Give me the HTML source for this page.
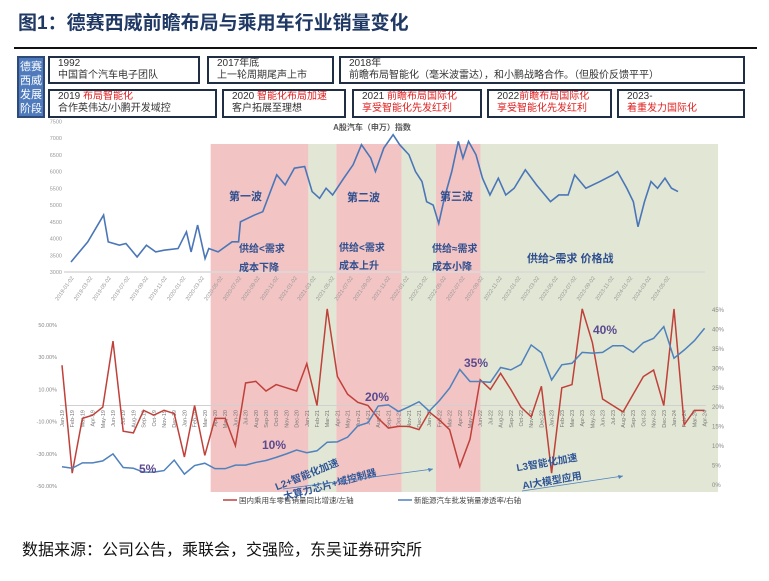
<!DOCTYPE html>
<html><head><meta charset="utf-8"><style>
body{margin:0;width:769px;height:581px;background:#fff;font-family:"Liberation Sans","Noto Sans CJK SC",sans-serif;overflow:hidden;position:relative}
.t{position:absolute}
.box{position:absolute;border:2px solid #1f2d45;box-sizing:border-box;font-size:10px;line-height:12px;padding:0 0 0 8px;color:#333;background:#fff;white-space:nowrap;overflow:hidden}
.r{color:#e02020}
</style></head><body>
<div class="t" style="left:18px;top:8px;font-size:19px;font-weight:bold;color:#1f3864">图1：德赛西威前瞻布局与乘用车行业销量变化</div>
<div class="t" style="left:14px;top:47px;width:743px;height:2px;background:#111"></div>
<div class="t" style="left:17px;top:56px;width:28px;height:62px;background:#4f7bbd;border:2px solid #2e4a78;box-sizing:border-box;color:#fff;font-size:11px;line-height:14px;text-align:center;padding-top:2px">德赛西威发展阶段</div>
<div class="box" style="left:48px;top:56px;width:152px;height:28px">1992<br>中国首个汽车电子团队</div>
<div class="box" style="left:207px;top:56px;width:127px;height:28px">2017年底<br>上一轮周期尾声上市</div>
<div class="box" style="left:339px;top:56px;width:406px;height:28px">2018年<br>前瞻布局智能化（毫米波雷达），和小鹏战略合作。（但股价反馈平平）</div>
<div class="box" style="left:48px;top:89px;width:169px;height:29px">2019 <span class="r">布局智能化</span><br>合作英伟达/小鹏开发域控</div>
<div class="box" style="left:222px;top:89px;width:124px;height:29px">2020 <span class="r">智能化布局加速</span><br>客户拓展至理想</div>
<div class="box" style="left:352px;top:89px;width:130px;height:29px">2021 <span class="r">前瞻布局国际化<br>享受智能化先发红利</span></div>
<div class="box" style="left:487px;top:89px;width:125px;height:29px">2022<span class="r">前瞻布局国际化<br>享受智能化先发红利</span></div>
<div class="box" style="left:617px;top:89px;width:128px;height:29px">2023-<br><span class="r">着重发力国际化</span></div>

<svg id="ch" width="769" height="581" style="position:absolute;left:0;top:0;pointer-events:none" font-family="Liberation Sans, Noto Sans CJK SC, sans-serif"></svg>

<div class="t" style="left:22px;top:536px;font-size:16px;color:#111">数据来源：公司公告，乘联会，交强险，东吴证券研究所</div>

<script>
// ---- top chart data: A-share auto index (months since 2019-01) ----
const idxMonths=[0,1.8,3.5,4.0,5.2,5.9,7.1,8.1,9.1,10.0,11.5,12.4,12.9,13.6,14.4,14.8,15.8,17.3,18.0,18.2,19.7,20.6,22.1,23.0,24.0,25.1,25.9,26.7,27.4,28.1,29.3,30.3,31.2,32.2,32.7,33.6,34.6,35.3,36.3,37.0,37.7,38.2,38.9,39.5,40.1,40.9,41.6,42.1,42.7,43.5,44.2,45.0,45.9,46.7,47.6,48.8,50.0,51.5,52.4,53.4,54.1,55.3,56.8,58.2,58.7,59.7,60.4,60.9,61.6,62.3,63.0,63.8,64.5,65.2];
const idxValues=[3300,3900,4700,3900,3800,3850,3450,3800,3600,3650,3700,4200,3600,4400,3400,3700,3600,3900,3900,4500,4700,4800,5900,5600,6100,6150,5400,5200,5500,5300,5800,6200,6800,6400,6000,6700,7100,6800,6500,6000,5700,5100,5000,4450,5200,6000,6900,6400,6900,6500,5800,5300,5800,5300,5500,6050,5600,5100,5300,5300,5900,5500,5700,5900,6000,5500,5100,4350,5100,5700,5500,5800,5500,5400];
const idxTicks=[7500,7000,6500,6000,5500,5000,4500,4000,3500,3000];
const dateLabels=["2019-01-02","2019-03-02","2019-05-02","2019-07-02","2019-09-02","2019-11-02","2020-01-02","2020-03-02","2020-05-02","2020-07-02","2020-09-02","2020-11-02","2021-01-02","2021-03-02","2021-05-02","2021-07-02","2021-09-02","2021-11-02","2022-01-02","2022-03-02","2022-05-02","2022-07-02","2022-09-02","2022-11-02","2023-01-02","2023-03-02","2023-05-02","2023-07-02","2023-09-02","2023-11-02","2024-01-02","2024-03-02","2024-05-02"];
// ---- bottom chart data ----
const monthLabels=[];
const mn=["Jan","Feb","Mar","Apr","May","Jun","Jul","Aug","Sep","Oct","Nov","Dec"];
for(let y=19;y<=24;y++)for(let m=0;m<12;m++){if(y===24&&m>3)break;monthLabels.push(mn[m]+"-"+y);}
const retailYoY=[25,-42,-8,-6,-1,40,-16,-17,-3,-6,-3,-5,-32,0,-31,-8,-8,-25,14,15,9,13,11,9,26,0,60,18,7,2,0,-8,-14,-13,-13,-15,-4,-9,-15,-38,-21,16,10,20,10,-1,-7,12,-42,11,13,60,39,4,0,-4,7,18,22,0,60,-12,-3,-3];
const nevShare=[4.7,4.3,5.7,5.7,6.2,8,4.5,4.3,3.3,3.3,3.7,6.4,2.8,5,5.6,4.2,4.2,5.1,5.1,5.8,6.3,7.1,8,9,8.3,8.8,11,11.1,12.3,15.2,16,20.3,20.6,18.9,20.1,21.4,19,21.7,24.9,29.7,26.6,26.6,26.4,30.2,29.6,31,36,34,27,30.9,31.3,34.1,33.9,34.1,35.8,35.8,34.1,36.6,37.7,40.7,32.6,34.7,37.1,40.3];
const leftTicks=["50.00%","30.00%","10.00%","-10.00%","-30.00%","-50.00%"];
const leftTickVals=[50,30,10,-10,-30,-50];
const rightTickVals=[45,40,35,30,25,20,15,10,5,0];
// phase bands in months since 2019-01
const bandStart=[15.0,25.5,28.5,35.5,39.2,44.0];
const bandEnd=[25.5,28.5,35.5,39.2,44.0,69.5];
const bandKind=["p","g","p","g","p","g"];

const svg=document.getElementById('ch');const NS="http://www.w3.org/2000/svg";
function mk(tag,attrs,parent){const e=document.createElementNS(NS,tag);for(const k in attrs)e.setAttribute(k,attrs[k]);(parent||svg).appendChild(e);return e;}
const tx=t=>71+t*9.31;
const ty=v=>272-(v-3000)*(134/4000);
const bx=i=>62+i*10.2;
const bl=v=>405.5-v*1.61;
const br=v=>485-v*3.89;

bandStart.forEach((s,i)=>{const r=mk('rect',{x:tx(s),y:144,width:tx(bandEnd[i])-tx(s),height:348,fill:bandKind[i]==="p"?"#f2c4c4":"#e1e7d4"});

});

const g1=mk('g',{});
mk('line',{x1:64,y1:272,x2:705,y2:272,stroke:"#d9d9d9","stroke-width":1.5},g1);
idxTicks.forEach(v=>{const t=mk('text',{x:62,y:ty(v)+2,"font-size":5.5,fill:"#999","text-anchor":"end"},g1);t.textContent=v;

});
dateLabels.forEach((d,i)=>{const x=tx(i*2)+3;const t=mk('text',{x:x,y:278,"font-size":5.5,fill:"#999","text-anchor":"end",transform:`rotate(-55 ${x} 278)`},g1);t.textContent=d;

});
const tt=mk('text',{x:372,y:130,"font-size":8,fill:"#555","text-anchor":"middle","font-weight":"bold"},g1);tt.textContent="A股汽车（申万）指数";

const ip=mk('polyline',{points:idxMonths.map((t,i)=>tx(t)+","+ty(idxValues[i])).join(" "),fill:"none",stroke:"#4a76b8","stroke-width":1.6},g1);


function label(txt,x,y,size,fill,name,extra){const t=mk('text',Object.assign({x:x,y:y,"font-size":size,fill:fill,"font-weight":"bold"},extra||{}));t.textContent=txt;return t;}
label("第一波",229,200,11,"#2f4f8f","wave-1-label");
label("第二波",347,201,11,"#2f4f8f","wave-2-label");
label("第三波",440,200,11,"#2f4f8f","wave-3-label");
label("供给<需求",239,252,10,"#2f4f8f","phase-1-supply");
label("成本下降",239,271,10,"#2f4f8f","phase-1-cost");
label("供给<需求",339,251,10,"#2f4f8f","phase-2-supply");
label("成本上升",339,269,10,"#2f4f8f","phase-2-cost");
label("供给≈需求",432,252,10,"#2f4f8f","phase-3-supply");
label("成本小降",432,270,10,"#2f4f8f","phase-3-cost");
label("供给>需求  价格战",527,262,11,"#2f4f8f","phase-4-label",{"xml:space":"preserve"});

const g2=mk('g',{});
mk('line',{x1:60,y1:bl(0),x2:706,y2:bl(0),stroke:"#d0d0d0","stroke-width":1},g2);
leftTickVals.forEach((v,i)=>{const t=mk('text',{x:57,y:bl(v)+2,"font-size":5.5,fill:"#888","text-anchor":"end"},g2);t.textContent=leftTicks[i];
});
rightTickVals.forEach(v=>{const t=mk('text',{x:712,y:br(v)+2,"font-size":6,fill:"#888"},g2);t.textContent=v+"%";
});
monthLabels.forEach((m,i)=>{const x=bx(i)+2;const t=mk('text',{x:x,y:410,"font-size":5.5,fill:"#777","text-anchor":"end",transform:`rotate(-90 ${x} 410)`},g2);t.textContent=m;
});
const rp=mk('polyline',{points:retailYoY.map((v,i)=>bx(i)+","+bl(v)).join(" "),fill:"none",stroke:"#c0403a","stroke-width":1.5},g2);

const np=mk('polyline',{points:nevShare.map((v,i)=>bx(i)+","+br(v)).join(" "),fill:"none",stroke:"#4f81bd","stroke-width":1.5},g2);


label("5%",139,473,12,"#5b4a8f","pct-5-label");
label("10%",262,449,12,"#5b4a8f","pct-10-label");
label("20%",365,401,12,"#5b4a8f","pct-20-label");
label("35%",464,367,12,"#5b4a8f","pct-35-label");
label("40%",593,334,12,"#5b4a8f","pct-40-label");
label("L2+智能化加速",307,478,10,"#2f5597","l2-label",{"text-anchor":"middle",transform:"rotate(-22 307 475)"});
label("大算力芯片+域控制器",330,488,10,"#2f5597","chip-label",{"text-anchor":"middle",transform:"rotate(-15 330 485)"});
label("L3智能化加速",547,466,10,"#2f5597","l3-label",{"text-anchor":"middle",transform:"rotate(-10 547 463)"});
label("AI大模型应用",552,484,10,"#2f5597","ai-label",{"text-anchor":"middle",transform:"rotate(-10 552 481)"});
const a1=mk('line',{x1:283,y1:489,x2:433,y2:469,stroke:"#4f81bd","stroke-width":0.8});
mk('path',{d:"M433 469 l-5 -1 l1 4 z",fill:"#4f81bd"});
const a2=mk('line',{x1:522,y1:491,x2:623,y2:476,stroke:"#4f81bd","stroke-width":0.8});
mk('path',{d:"M623 476 l-5 -1 l1 4 z",fill:"#4f81bd"});

const lg=mk('g',{});
mk('line',{x1:223,y1:500,x2:237,y2:500,stroke:"#c0403a","stroke-width":1.5},lg);
const l1=mk('text',{x:239,y:503,"font-size":7.5,fill:"#444"},lg);l1.textContent="国内乘用车零售销量同比增速/左轴";

mk('line',{x1:398,y1:500,x2:412,y2:500,stroke:"#4f81bd","stroke-width":1.5},lg);
const l2=mk('text',{x:414,y:503,"font-size":7.5,fill:"#444"},lg);l2.textContent="新能源汽车批发销量渗透率/右轴";

</script>
</body></html>
